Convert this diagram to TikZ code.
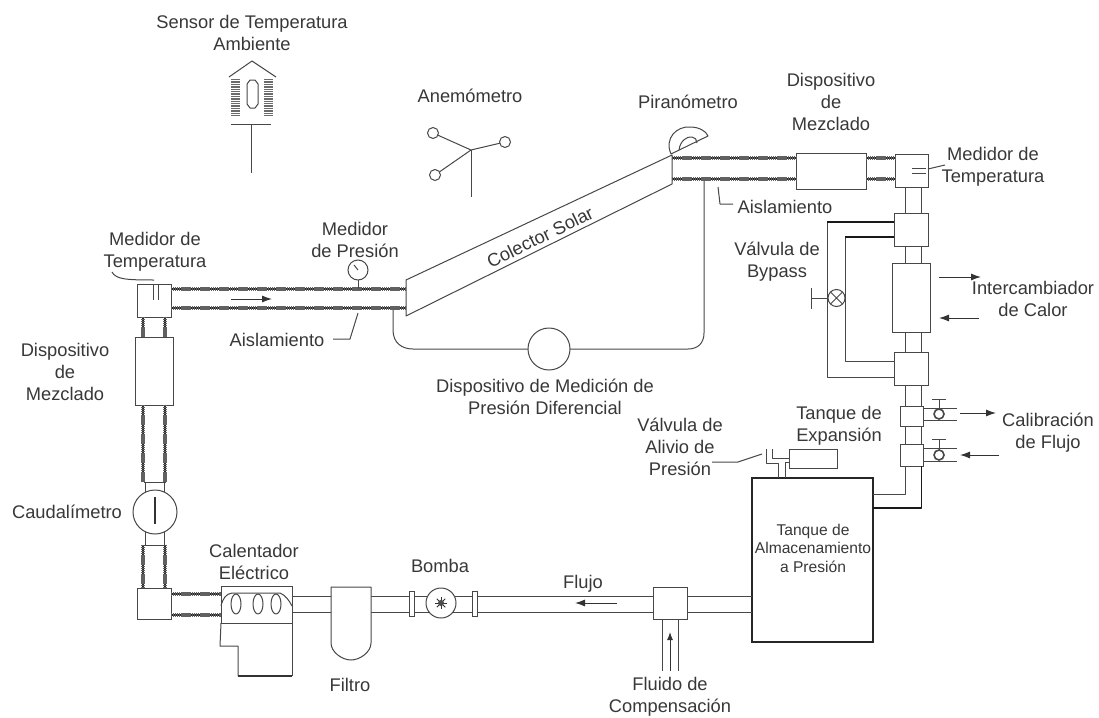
\documentclass[tikz,border=0pt]{standalone}
\usepackage{fontspec}
\setmainfont{Liberation Sans}
\usetikzlibrary{arrows.meta}
\tikzset{
 line/.style={draw=black!72,line width=1pt,line join=round},
 darkline/.style={draw=black!90,line width=1.2pt,line join=round},
 insul/.style={draw=black!62,line width=4.2pt,dash pattern=on 1.4pt off .5pt,
   preaction={draw=black!85,line width=2.4pt,solid}},
 eq/.style={draw=black!72,line width=1pt,fill=white,rectangle,inner sep=0pt,outer sep=0pt},
 rnd/.style={draw=black!72,line width=1pt,fill=white,circle,inner sep=0pt,outer sep=0pt},
 lbl/.style={text=black!78,font=\fontsize{18.3}{22}\selectfont,inner sep=0pt,align=center},
 sml/.style={text=black!78,font=\fontsize{15.6}{18.5}\selectfont,inner sep=0pt,align=center},
 flow/.style={draw=black!80,line width=1pt,-{Latex[length=10pt,width=7pt]}},
}
\newcommand\bx[6][]{\node[eq,minimum width=#4pt-#2pt,minimum height=#5pt-#3pt,#1] (#6) at ({(#2+#4)/2},{(#3+#5)/2}) {};}
\newcommand\hp[4]{\draw[#1] (#2 |- 0,#4) -- (#3 |- 0,#4);}
\newcommand\vp[4]{\draw[#1] (#4,0 |- #2) -- (#4,0 |- #3);}
\begin{document}
\begin{tikzpicture}[x=1pt,y=-1pt]
\useasboundingbox[fill=white] (0,0) rectangle (1099,717);
% ---------- equipment positions
\coordinate (cLB) at (406,316); \coordinate (cLT) at (406,280);
\coordinate (cRT) at (672,155); \coordinate (cRB) at (672,184);
\coordinate (insR) at (704,181); \coordinate (insL) at (393,310);
\coordinate (capT) at (155,482); \coordinate (capB) at (155,545);
\bx{137}{284}{171}{317}{tL}
\bx{135}{337}{173}{405}{mixL}
\bx{137}{588}{171}{619}{elb}
\bx{796}{153}{866}{189}{mixR}
\bx{895}{154}{928}{187}{tR}
\bx{894}{213}{928}{246}{b2}
\bx{892}{263}{930}{332}{hx}
\bx{894}{352}{928}{385}{b3}
\bx{900}{406}{923}{426}{b4}
\bx{900}{444}{923}{466}{b5}
\bx[draw=black!85,line width=1.2pt]{752}{478}{873}{642}{tank}
\bx{653}{587}{687}{619}{comp}
\bx{789}{449}{837}{468}{exp}
\node[rnd,minimum size=44pt] (meter) at (155,512) {};
\node[rnd,minimum size=42pt] (dp) at (549,349) {};
\node[rnd,minimum size=20pt] (gauge) at (358,270) {};
\bx{472}{591}{477}{616}{fl2}
\bx{409}{591}{414}{616}{fl1}
\bx{221}{586}{292}{623}{heat}
\coordinate (filtW) at (331,600); \coordinate (filtE) at (371,600);
% ---------- insulated pipes
\hp{insul}{tL.east}{cLT}{289}
\hp{insul}{tL.east}{cLT}{308}
\hp{insul}{cRT}{mixR.west}{158}
\hp{insul}{cRT}{mixR.west}{179}
\hp{insul}{mixR.east}{tR.west}{158}
\hp{insul}{mixR.east}{tR.west}{179}
\vp{insul}{tL.south}{mixL.north}{143}
\vp{insul}{tL.south}{mixL.north}{165}
\vp{insul}{mixL.south}{capT}{143}
\vp{insul}{mixL.south}{capT}{165}
\vp{insul}{capB}{elb.north}{143}
\vp{insul}{capB}{elb.north}{165}
\hp{insul}{elb.east}{heat.west}{594}
\hp{insul}{elb.east}{heat.west}{615}
% short bare sections at the flow meter
\draw[line] (meter.115 |- capT) -- (meter.115);
\draw[line] (meter.65 |- capT) -- (meter.65);
\draw[line] (meter.245 |- capB) -- (meter.245);
\draw[line] (meter.295 |- capB) -- (meter.295);
\draw[line] (144,0 |- capT) -- (166,0 |- capT);
\draw[line] (144,0 |- capB) -- (166,0 |- capB);
\draw[line width=2pt,draw=black!80] (meter.center |- 0,497) -- (meter.center |- 0,524);
% vertical right-hand stack
\foreach \px in {905,921.5}{
 \vp{line}{tR.south}{b2.north}{\px}
 \vp{line}{b2.south}{hx.north}{\px}
 \vp{line}{hx.south}{b3.north}{\px}
 \vp{line}{b3.south}{b4.north}{\px}
 \vp{line}{b4.south}{b5.north}{\px}
}
\coordinate (tkA) at (873,494); \coordinate (tkB) at (873,508);
\draw[line] (905,0 |- b5.south) -- (905,494) -- (tkA);
\draw[darkline] (921.5,0 |- b5.south) -- (921.5,508) -- (tkB);
% bypass
\draw[line] (827,222) -- (827,377) -- (b3.west |- 0,377);
\draw[darkline] (b2.west |- 0,222) -- (827,222);
\draw[line] (845,237) -- (845,361) -- (b3.west |- 0,361);
\draw[darkline] (b2.west |- 0,237) -- (845,237);
\node[rnd,minimum size=17pt] (bv) at (836.5,298) {};
\draw[line] (bv.north west) -- (bv.south east) (bv.north east) -- (bv.south west);
\draw[line] (bv.west) -- (811,298);
\draw[line] (811,288) -- (811,309);
% calibration branches
\foreach \by/\bn in {408/b4,420/b4,448/b5,461/b5}{
 \draw[line] (\bn.east |- 0,\by) -- (957,\by);}
\node[rnd,minimum size=10pt,line width=1.6pt] (v4) at (939,414) {};
\node[rnd,minimum size=10pt,line width=1.6pt] (v5) at (939,455) {};
\draw[line] (v4.north) -- (939,399) (932,399) -- (946,399);
\draw[line] (v5.north) -- (939,439) (932,439) -- (946,439);
\coordinate (a1) at (960,413); \coordinate (a2) at (996,413);
\coordinate (a3) at (999,455); \coordinate (a4) at (960,455);
\draw[flow] (a1) -- (a2);
\draw[flow] (a3) -- (a4);
\coordinate (a5) at (939,277); \coordinate (a6) at (981,277);
\coordinate (a7) at (979,318); \coordinate (a8) at (939,318);
\draw[flow] (a5) -- (a6);
\draw[flow] (a7) -- (a8);
% expansion tank and relief valve
\draw[line] (778,0 |- tank.north) -- (778,463) -- (766,463) -- (766,449);
\draw[line] (785,0 |- tank.north) -- (785,462) -- (exp.west |- 0,462);
\draw[line] (772,449) -- (772,458) -- (exp.west |- 0,458);
\coordinate (rv) at (762,454);
\draw[line] (712,462) -- (738,462) -- (rv);
% bottom line
\hp{line}{tank.west}{comp.east}{596}
\hp{line}{tank.west}{comp.east}{612}
\hp{line}{comp.west}{fl2.east}{596}
\hp{line}{comp.west}{fl2.east}{612}
\hp{line}{fl2.west}{fl1.east}{596}
\hp{line}{fl2.west}{fl1.east}{612}
\hp{line}{fl1.west}{filtE}{596}
\hp{line}{fl1.west}{filtE}{612}
\hp{line}{filtW}{heat.east}{596}
\hp{line}{filtW}{heat.east}{612}
\node[rnd,minimum size=30pt] (pump) at (441,603) {};
\foreach \ang in {0,45,...,315}{\draw[draw=black!80,line width=.8pt] (pump.center) -- ++(\ang:6pt);}
\node[circle,fill=black!70,minimum size=6pt,inner sep=0pt] (hub) at (pump.center) {};
% compensation inlet
\vp{line}{comp.south}{0,671}{662}
\vp{line}{comp.south}{0,671}{678}
\coordinate (ci1) at (670,671); \coordinate (ci2) at (670,632);
\draw[flow,-{Latex[length=8pt,width=6pt]}] (ci1) -- (ci2);
\coordinate (fa1) at (617,603); \coordinate (fa2) at (575,603);
\draw[flow] (fa1) -- (fa2);
% filter
\draw[line,fill=white] (filtW |- 0,587) -- (filtE |- 0,587) -- (filtE |- 0,643)
  .. controls (371,652) and (360,660) .. (351,660) .. controls (342,660) and (331,652) .. (filtW |- 0,643) -- cycle;
% heater
\draw[line] (heat.south west) -- (220,646) -- (238,646) -- (238,676);
\draw[draw=black!80,line width=1.6pt] (238,676) -- (292,676);
\draw[line] (292,676) -- (heat.south east);
\draw[line] (heat.west |- 0,606) .. controls (223,598) and (226,594) .. (232,593) -- (280,593) .. controls (285,595) and (289,600) .. (heat.east |- 0,606);
\foreach \ex in {236,258,276}{\draw[line,fill=white] (\ex,604) ellipse [x radius=5pt,y radius=10pt];}
% collector
\draw[line,fill=white] (cLB) -- (cLT) -- (cRT) -- (cRB) -- cycle;
\node[lbl,rotate=26] (colector) at (540,237) {Colector Solar};
% temperature sensors in the T-boxes
\draw[line] (153,285) -- (153,300) (158,285) -- (158,300);
\draw[line] (912,168) -- (926,168) (912,173) -- (926,173);
\coordinate (mtL) at (112,272);
\draw[line] (mtL) .. controls (116,279) and (124,280) .. (tL.north |- 0,280);
\coordinate (mtR) at (945,165);
\draw[line] (tR.east |- 0,169) -- (mtR);
% flow arrow in the insulated line
\coordinate (fb1) at (231,299); \coordinate (fb2) at (272,299);
\draw[flow] (fb1) -- (fb2);
% pressure gauge
\draw[line] (gauge.south) -- (gauge.south |- 0,289);
\draw[line] (gauge.center) -- ++(-4,-5);
% insulation leaders
\coordinate (isL) at (358,313); \coordinate (isR) at (718,187);
\draw[line] (isL) -- (350,339) -- (333,339);
\draw[line] (isR) -- (720,204) -- (733,204);
% differential pressure loop
\draw[line] (insL) -- (393,330) .. controls (393,343) and (402,349) .. (413,349) -- (dp.west);
\draw[line] (dp.east) -- (688,349) .. controls (698,349) and (704,343) .. (704,333) -- (insR);
% pyranometer
\draw[line] (671,154) .. controls (664,138) and (677,126) .. (690,127) .. controls (699,127) and (706,131) .. (708,136) -- cycle;
\draw[line] (679,150) .. controls (680,141) and (687,136) .. (692,137) .. controls (695,137) and (697,140) .. (697,143);
% ambient temperature sensor
\draw[line] (229,77) -- (252,61) -- (276,77);
\foreach \hx in {235.5,268}{
 \draw[draw=black!58,line width=9pt,dash pattern=on 1.4pt off 1pt] (\hx,79) -- (\hx,117);}
\draw[line] (250,80) -- (255,80) -- (258,84) -- (258,104) -- (255,108) -- (250,108) -- (247,104) -- (247,84) -- cycle;
\draw[line] (231,124) -- (271,124);
\draw[line] (251,124) -- (251,173);
% anemometer
\coordinate (anem) at (471,150);
\node[rnd,minimum size=11pt] (c1) at (433,133) {};
\node[rnd,minimum size=11pt] (c2) at (505,142) {};
\node[rnd,minimum size=11pt] (c3) at (435,175) {};
\draw[line] (c1) -- (anem) (c2) -- (anem) (c3) -- (anem);
\draw[line] (anem) -- (471,197);
% ---------- labels
\node[lbl] (t1) at (252,33) {Sensor de Temperatura\\Ambiente};
\node[lbl] (t2) at (470,96) {Anemómetro};
\node[lbl] (t3) at (688,102) {Piranómetro};
\node[lbl] (t4) at (831,102) {Dispositivo\\de\\Mezclado};
\node[lbl] (t5) at (993,167) {Medidor de\\Temperatura};
\node[lbl] (t6) at (355,240) {Medidor\\de Presión};
\node[lbl] (t7) at (155,252) {Medidor de\\Temperatura};
\node[lbl] (t8) at (65,372) {Dispositivo\\de\\Mezclado};
\node[lbl] (t9) at (277,340) {Aislamiento};
\node[lbl] (t10) at (785,207) {Aislamiento};
\node[lbl] (t11) at (777,262) {Válvula de\\Bypass};
\node[lbl] (t12) at (1033,299) {Intercambiador\\de Calor};
\node[lbl] (t13) at (1048,433) {Calibración\\de Flujo};
\node[lbl] (t14) at (839,426) {Tanque de\\Expansión};
\node[lbl] (t15) at (680,447) {Válvula de\\Alivio de\\Presión};
\node[sml] (t16) at (813,548) {Tanque de\\Almacenamiento\\a Presión};
\node[lbl] (t17) at (583,584) {Flujo};
\node[lbl] (t18) at (670,697) {Fluido de\\Compensación};
\node[lbl] (t19) at (440,566) {Bomba};
\node[lbl] (t20) at (350,685) {Filtro};
\node[lbl] (t21) at (254,562) {Calentador\\Eléctrico};
\node[lbl] (t22) at (67,512) {Caudalímetro};
\node[lbl] (t23) at (545,397) {Dispositivo de Medición de\\Presión Diferencial};
\end{tikzpicture}
\end{document}
